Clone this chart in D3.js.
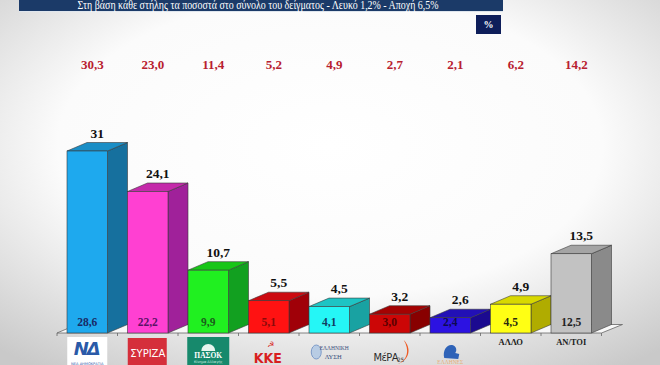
<!DOCTYPE html>
<html><head><meta charset="utf-8">
<script src="https://cdn.jsdelivr.net/npm/d3@7"></script>
<style>html,body{margin:0;padding:0;overflow:hidden;background:#fff}svg{display:block}</style>
</head><body>
<svg id="c" width="660" height="365"></svg>
<script>
const categories = ["ΝΔ","ΣΥΡΙΖΑ","ΠΑΣΟΚ","ΚΚΕ","ΕΛΛΗΝΙΚΗ ΛΥΣΗ","ΜέΡΑ25","ΕΛΛΗΝΕΣ","ΑΛΛΟ","ΑΝ/ΤΟΙ"];
const mainValues = [31, 24.1, 10.7, 5.5, 4.5, 3.2, 2.6, 4.9, 13.5];
const baseValues = [28.6, 22.2, 9.9, 5.1, 4.1, 3.0, 2.4, 4.5, 12.5];
const topValues  = [30.3, 23.0, 11.4, 5.2, 4.9, 2.7, 2.1, 6.2, 14.2];
const frontColors = ["#1ea9ee","#ff40d2","#20f020","#ff1212","#25f6f6","#cc0606","#2c12e2","#ffff14","#c2c2c2"];
const sideColors  = ["#16709e","#a0219a","#12a020","#a00008","#19a2a2","#880000","#1b0a90","#b0ac00","#8a8a8a"];
const topColors   = ["#1a8ec6","#c42aaa","#18c618","#cc0a10","#1ec4c4","#a40202","#2210b6","#d8d800","#a4a4a4"];
const innerColors = ["#1a2a66","#5a1266","#1b5e1b","#8a0a0a","#123c60","#5a0000","#0c0a50","#2a2a10","#222"];
const titleText = "Στη βάση κάθε στήλης τα ποσοστά στο σύνολο του δείγματος - Λευκό 1,2% - Αποχή 6,5%";

const svg = d3.select("#c");
const defs = svg.append("defs");
const rg = defs.append("radialGradient").attr("id","bg").attr("cx","0.5").attr("cy","0.4").attr("r","0.75");
rg.append("stop").attr("offset","0").attr("stop-color","#ffffff");
rg.append("stop").attr("offset","0.55").attr("stop-color","#fbfbfb");
rg.append("stop").attr("offset","1").attr("stop-color","#c9c9c9");
svg.append("rect").attr("width",660).attr("height",365).attr("fill","url(#bg)");

// title bar
svg.append("rect").attr("x",19).attr("y",0).attr("width",484).attr("height",11).attr("fill","#1b3a68");
svg.append("line").attr("x1",19).attr("x2",503).attr("y1",11.5).attr("y2",11.5).attr("stroke","#dfe6ee").attr("stroke-width",1);
svg.append("text").attr("x",258).attr("y",8.5).attr("text-anchor","middle")
  .attr("font-family","Liberation Serif, serif").attr("font-size",11.5).attr("fill","#fff")
  .attr("textLength",361).attr("lengthAdjust","spacingAndGlyphs").text(titleText);
// % box
svg.append("rect").attr("x",476).attr("y",15).attr("width",25).attr("height",19).attr("fill","#0e1e5a");
svg.append("text").attr("x",488.5).attr("y",28).attr("text-anchor","middle")
  .attr("font-family","Liberation Serif, serif").attr("font-weight","bold").attr("font-size",10).attr("fill","#fff").text("%");

const base = 333, dx = 20, dy = -8.5;
const x = d3.scaleBand().domain(categories).range([57, 57 + 9*60.5]).paddingInner(0).paddingOuter(0);
const y = d3.scaleLinear().domain([0, 31]).range([base, 151]);
const fw = 40.5, off = 10;
const fmtMain = v => Number.isInteger(v) ? String(v) : v.toFixed(1).replace(".", ",");
const fmt1 = v => v.toFixed(1).replace(".", ",");

const g = svg.append("g");
// floor
const x0 = x.range()[0], x1 = x.range()[1];
g.append("path").attr("d",`M${x0},${base}L${x1},${base}L${x1+dx+1},${base+dy}L${x0+dx},${base+dy}Z`)
  .attr("fill","#f8f8f8").attr("stroke","#666").attr("stroke-width",0.8);
// ticks
g.selectAll("line.tick").data(d3.range(10)).join("line")
  .attr("x1",i=>x0+i*x.step()).attr("x2",i=>x0+i*x.step())
  .attr("y1",base).attr("y2",base+3).attr("stroke","#666").attr("stroke-width",0.8);

const bars = g.selectAll("g.bar").data(categories).join("g").attr("class","bar");
bars.each(function(c, i){
  const s = d3.select(this);
  const fx = x(c) + off, ty = y(mainValues[i]);
  s.append("path").attr("d",`M${fx+fw},${ty}L${fx+fw+dx},${ty+dy}L${fx+fw+dx},${base+dy}L${fx+fw},${base}Z`)
    .attr("fill",sideColors[i]).attr("stroke","#3a3a3a").attr("stroke-width",0.6);
  s.append("path").attr("d",`M${fx},${ty}L${fx+dx},${ty+dy}L${fx+fw+dx},${ty+dy}L${fx+fw},${ty}Z`)
    .attr("fill",topColors[i]).attr("stroke","#3a3a3a").attr("stroke-width",0.6);
  s.append("rect").attr("x",fx).attr("y",ty).attr("width",fw).attr("height",base-ty)
    .attr("fill",frontColors[i]).attr("stroke","#3a3a3a").attr("stroke-width",0.6);
  s.append("text").attr("x",fx+fw/2+dx/2).attr("y",ty+dy-5).attr("text-anchor","middle")
    .attr("font-family","Liberation Serif, serif").attr("font-weight","bold").attr("font-size",13.5).attr("fill","#111")
    .text(fmtMain(mainValues[i]));
  s.append("text").attr("x",fx+fw/2).attr("y",base-7).attr("text-anchor","middle")
    .attr("font-family","Liberation Serif, serif").attr("font-weight","bold").attr("font-size",11.5).attr("fill",innerColors[i])
    .text(fmt1(baseValues[i]));
  svg.append("text").attr("x",fx+fw/2+dx/2-5).attr("y",69).attr("text-anchor","middle")
    .attr("font-family","Liberation Serif, serif").attr("font-weight","bold").attr("font-size",13).attr("fill","#b8202f")
    .text(fmt1(topValues[i]));
});

// logos under each category
const lg = svg.append("g");
categories.forEach((c, i) => {
  const cx = x(c) + off + fw/2;
  const L = lg.append("g").attr("transform",`translate(${cx},0)`);
  if (i === 0) {
    L.append("rect").attr("x",-20).attr("y",337).attr("width",40).attr("height",30).attr("fill","#fff");
    L.append("text").attr("x",-1).attr("y",355).attr("text-anchor","middle").attr("font-family","DejaVu Sans, sans-serif")
      .attr("font-weight","bold").attr("font-style","italic").attr("font-size",18).attr("fill","#2a5aa8").attr("letter-spacing",-2).text("ΝΔ");
    L.append("text").attr("x",0).attr("y",364.5).attr("text-anchor","middle").attr("font-family","DejaVu Sans, sans-serif")
      .attr("font-size",3.6).attr("fill","#2a5aa8").text("ΝΕΑ ΔΗΜΟΚΡΑΤΙΑ");
  } else if (i === 1) {
    L.append("rect").attr("x",-20).attr("y",338).attr("width",39).attr("height",30).attr("fill","#d52f3b");
    L.append("text").attr("x",0).attr("y",357).attr("text-anchor","middle").attr("font-family","DejaVu Sans, sans-serif")
      .attr("font-size",10).attr("fill","#fff").text("ΣΥΡΙΖΑ");
  } else if (i === 2) {
    L.append("rect").attr("x",-21).attr("y",337).attr("width",42).attr("height",30).attr("fill","#17896c");
    L.append("path").attr("d","M-7,351 A7,7 0 0,1 7,351 Z").attr("fill","#e8f5ee");
    L.append("text").attr("x",0).attr("y",358).attr("text-anchor","middle").attr("font-family","Liberation Serif, serif")
      .attr("font-weight","bold").attr("font-size",7.5).attr("fill","#fff").text("ΠΑΣΟΚ");
    L.append("text").attr("x",0).attr("y",363).attr("text-anchor","middle").attr("font-family","DejaVu Sans, sans-serif")
      .attr("font-size",3.5).attr("fill","#d9f0e4").text("Κίνημα Αλλαγής");
  } else if (i === 3) {
    L.append("text").attr("x",2).attr("y",347).attr("text-anchor","middle").attr("font-family","DejaVu Sans, sans-serif")
      .attr("font-size",8).attr("fill","#d81e1e").text("☭");
    L.append("text").attr("x",-1).attr("y",363).attr("text-anchor","middle").attr("font-family","DejaVu Sans Condensed, sans-serif")
      .attr("font-weight","bold").attr("font-size",14).attr("fill","#d81e1e").text("ΚΚΕ");
  } else if (i === 4) {
    L.append("ellipse").attr("cx",-13).attr("cy",352).attr("rx",5).attr("ry",7).attr("fill","#b8cce4").attr("stroke","#6a8cc0").attr("stroke-width",0.8);
    L.append("text").attr("x",5).attr("y",350).attr("text-anchor","middle").attr("font-family","Liberation Serif, serif")
      .attr("font-size",5.5).attr("fill","#3a4f80").text("ΕΛΛΗΝΙΚΗ");
    L.append("text").attr("x",4).attr("y",359).attr("text-anchor","middle").attr("font-family","Liberation Serif, serif")
      .attr("font-size",6.5).attr("fill","#3a4f80").text("ΛΥΣΗ");
  } else if (i === 5) {
    L.append("text").attr("x",-4).attr("y",361).attr("text-anchor","middle").attr("font-family","DejaVu Sans Condensed, sans-serif")
      .attr("font-size",11).attr("fill","#2b2b2b").attr("letter-spacing",-0.5).text("ΜέΡΑ");
    L.append("text").attr("x",11).attr("y",362).attr("text-anchor","middle").attr("font-family","DejaVu Sans Condensed, sans-serif")
      .attr("font-size",6).attr("fill","#2b2b2b").text("25");
    L.append("path").attr("d","M8,364 C18,360 20,350 14,340 C22,348 20,360 8,364 Z").attr("fill","#ee5a24");
  } else if (i === 6) {
    L.append("path").attr("d","M-6,358 C-8,350 -3,344 2,345 C6,346 7,350 5,353 L9,354 L8,359 Z").attr("fill","#2f63b8");
    L.append("text").attr("x",0).attr("y",364).attr("text-anchor","middle").attr("font-family","Liberation Serif, serif")
      .attr("font-size",5.5).attr("fill","#e6b07a").text("ΕΛΛΗΝΕΣ");
  } else {
    L.append("text").attr("x",0).attr("y",345).attr("text-anchor","middle").attr("font-family","Liberation Serif, serif")
      .attr("font-weight","bold").attr("font-size",8.5).attr("fill","#222").text(c);
  }
});
</script>
</body></html>
